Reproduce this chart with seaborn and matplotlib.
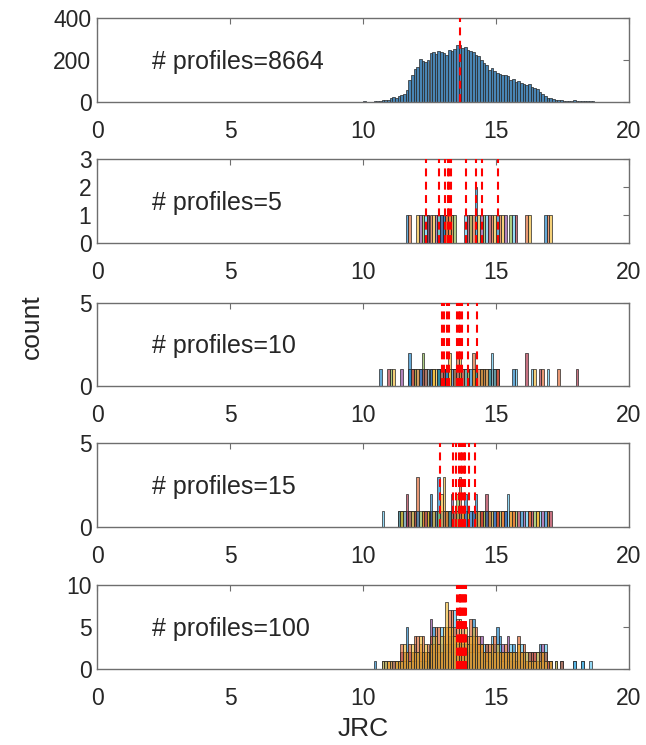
import numpy as np
import pandas as pd
import matplotlib
matplotlib.use("Agg")
import matplotlib.pyplot as plt
import seaborn as sns

# ---------------- data ----------------
n_profiles = [8664, 5, 10, 15, 100]

# panel 1: histogram counts, 0.1-wide bins starting at 10.0
top_bin_start = 10.0
top_counts = [3, 0, 0, 0, 2, 4, 5, 7, 6, 9,
              18, 22, 20, 26, 30, 38, 55, 105, 130, 158,
              165, 205, 195, 190, 200, 232, 238, 228, 245, 240,
              232, 225, 248, 244, 252, 270, 272, 258, 262, 250,
              242, 238, 225, 220, 200, 185, 178, 152, 160, 145,
              138, 135, 128, 130, 122, 105, 110, 96, 98, 90,
              86, 82, 86, 72, 68, 62, 48, 38, 26, 20,
              16, 12, 10, 8, 6, 5, 4, 4, 5, 6,
              4, 3, 2, 2, 2, 1, 1]
top_mean = 13.66

# panel 2: 10 samples of 5 profiles (JRC values) + sample means (red lines)
p2_samples = [
    [11.65, 12.45, 13.05, 14.05, 15.05],
    [11.75, 12.55, 13.15, 14.15, 15.15],
    [12.05, 12.65, 13.25, 14.35, 15.25],
    [12.15, 12.75, 13.35, 14.45, 15.35],
    [12.25, 12.85, 13.45, 14.55, 15.55],
    [12.35, 12.85, 13.85, 14.65, 15.65],
    [12.45, 12.95, 13.95, 14.75, 15.75],
    [12.95, 13.05, 14.22, 14.26, 16.85],
    [13.15, 13.25, 14.85, 16.15, 16.95],
    [13.35, 14.05, 14.95, 16.25, 17.05],
]
p2_means = [12.38, 12.84, 13.09, 13.19, 13.25, 13.31, 13.88, 14.23, 14.46, 15.09]

# panel 3: 10 samples of 10 profiles
p3_samples = [
    [10.65, 11.72, 11.76, 12.35, 12.85, 13.15, 13.55, 14.05, 14.45, 15.65],
    [11.95, 12.45, 13.05, 13.52, 13.56, 13.85, 14.15, 14.35, 14.85, 15.05],
    [11.15, 11.85, 12.65, 13.22, 13.26, 13.65, 13.95, 14.25, 14.95, 12.75],
    [11.45, 12.05, 12.55, 12.95, 13.35, 13.75, 14.15, 14.65, 15.05, 12.15],
    [11.05, 11.95, 12.22, 12.26, 12.85, 13.45, 13.85, 14.25, 14.55, 14.75],
    [16.35, 12.45, 12.95, 13.35, 13.85, 14.82, 14.86, 13.65, 15.75, 16.95],
    [10.95, 12.25, 13.05, 13.65, 14.45, 16.12, 16.16, 16.65, 18.05, 11.85],
    [11.75, 12.15, 12.55, 13.15, 13.45, 13.95, 14.25, 14.75, 14.95, 12.85],
    [16.75, 12.35, 12.95, 13.45, 13.75, 14.12, 14.16, 14.55, 15.05, 17.35],
    [12.05, 12.65, 13.25, 13.62, 13.66, 13.95, 14.15, 14.45, 14.65, 16.45],
]
p3_means = [12.98, 13.06, 13.15, 13.25, 13.54, 13.6, 13.66, 13.72, 13.96, 14.29]

# panel 4: 10 samples of 15 profiles
p4_samples = [
    [11.4, 11.9, 12.3, 12.82, 12.85, 12.88, 12.95, 13.3, 13.6, 14.22, 14.25, 13.1, 12.6, 11.7, 14.0],
    [11.5, 12.02, 12.05, 12.08, 12.7, 13.2, 13.5, 13.9, 14.3, 14.6, 15.0, 15.5, 16.2, 11.8, 12.6],
    [11.35, 12.4, 13.02, 13.05, 13.08, 13.4, 13.7, 14.1, 14.5, 15.2, 15.6, 16.5, 12.2, 13.9, 11.9],
    [11.6, 12.3, 12.9, 13.32, 13.35, 13.8, 14.0, 14.4, 14.9, 15.3, 16.0, 16.7, 12.5, 13.1, 14.1],
    [11.45, 12.1, 12.8, 13.52, 13.55, 13.9, 14.2, 14.7, 15.1, 15.7, 16.4, 12.4, 13.2, 14.5, 16.9],
    [10.72, 11.8, 12.6, 13.0, 13.6, 14.0, 14.3, 14.8, 15.42, 15.45, 16.1, 16.6, 12.9, 13.3, 11.5],
    [11.62, 11.65, 12.5, 13.1, 13.7, 14.62, 14.65, 15.0, 15.8, 16.3, 17.0, 12.2, 13.4, 14.4, 11.9],
    [11.3, 12.0, 12.52, 12.55, 13.2, 13.82, 13.85, 14.1, 14.6, 15.3, 15.9, 16.8, 13.5, 14.9, 12.7],
    [11.7, 12.3, 13.0, 13.62, 13.65, 13.68, 14.2, 14.7, 15.2, 15.6, 16.2, 16.9, 13.3, 14.4, 15.0],
    [11.4, 11.8, 12.2, 12.6, 12.92, 12.95, 13.1, 13.5, 13.9, 14.3, 14.8, 15.5, 16.5, 12.4, 13.7],
]
p4_means = [12.9, 13.4, 13.5, 13.62, 13.68, 13.72, 13.78, 13.84, 14.0, 14.2]

# panel 5: overlaid histogram layers (counts per 0.1 bin starting at 10.4)
p5_bin_start = 10.4
p5_layer_blue = [1, 0, 0, 0, 1, 0, 0, 1, 0, 1,
                 1, 2, 5, 1, 2, 3, 2, 1, 2, 1,
                 2, 3, 5, 2, 3, 2, 3, 3, 4, 3,
                 3, 3, 4, 3, 2, 2, 3, 6, 3, 2,
                 2, 2, 3, 2, 2, 3, 5, 4, 2, 1,
                 2, 2, 3, 1, 2, 1, 2, 1, 2, 1,
                 1, 1, 3, 2, 2, 0, 1, 0, 0, 0,
                 1, 0, 0, 0, 0, 1, 0, 0, 1, 0, 0, 0]
p5_layer_purple = [0, 0, 0, 0, 0, 0, 1, 0, 0, 0,
                   2, 1, 1, 2, 1, 2, 1, 2, 1, 2,
                   1, 6, 2, 3, 2, 3, 2, 2, 3, 2,
                   2, 2, 3, 2, 3, 2, 2, 3, 2, 3,
                   4, 1, 2, 1, 2, 2, 2, 1, 3, 2,
                   4, 1, 1, 2, 1, 2, 1, 1, 1, 2,
                   2, 1, 1, 3, 1, 1, 0, 0, 0, 0,
                   0, 0, 0, 0, 0, 0, 0, 0, 0, 0, 0, 0]
p5_layer_lightblue = [0, 0, 0, 1, 0, 0, 0, 0, 1, 0,
                      1, 1, 2, 1, 1, 1, 2, 1, 2, 1,
                      2, 2, 3, 2, 2, 5, 2, 3, 2, 4,
                      7, 3, 2, 3, 2, 3, 2, 2, 3, 2,
                      2, 3, 1, 2, 4, 2, 3, 3, 1, 2,
                      1, 3, 2, 1, 2, 3, 2, 2, 1, 1,
                      1, 2, 2, 1, 3, 0, 0, 0, 1, 0,
                      0, 0, 0, 0, 0, 1, 0, 0, 1, 0, 0, 1]
p5_layer_orange = [0, 0, 0, 0, 0, 1, 0, 1, 1, 1,
                   3, 2, 2, 3, 2, 4, 4, 3, 4, 2,
                   3, 4, 3, 5, 5, 2, 4, 5, 7, 7,
                   5, 6, 4, 5, 4, 4, 6, 4, 5, 4,
                   3, 2, 3, 3, 3, 4, 2, 2, 2, 3,
                   2, 2, 2, 1, 4, 2, 3, 1, 2, 2,
                   2, 1, 2, 2, 2, 1, 1, 0, 0, 0,
                   1, 0, 0, 0, 0, 0, 0, 0, 0, 0, 0, 0]
p5_layer_yellow = [0, 0, 0, 1, 1, 1, 1, 0, 1, 1,
                   1, 3, 2, 1, 3, 2, 2, 4, 2, 3,
                   2, 3, 4, 4, 3, 4, 5, 8, 5, 5,
                   4, 4, 6, 4, 5, 3, 4, 5, 4, 3,
                   3, 2, 2, 2, 3, 2, 3, 2, 2, 2,
                   2, 2, 2, 2, 3, 2, 2, 2, 1, 1,
                   1, 2, 1, 2, 1, 0, 1, 0, 1, 0,
                   0, 0, 0, 0, 0, 0, 0, 0, 0, 0, 0, 0]
p5_means = [13.55, 13.6, 13.63, 13.66, 13.7, 13.73, 13.76, 13.8, 13.84, 13.88]

# ---------------- style ----------------
sns.set_style("white")
plt.rcParams["font.family"] = ["Liberation Sans", "DejaVu Sans"]

mat_colors = ["#0072BD", "#D95319", "#EDB120", "#7E2F8E",
              "#77AC30", "#4DBEEE", "#A2142F"]
top_color = "#3f7fb0"
edge_col = (0.15, 0.15, 0.15)
spine_col = "#6e6e6e"
text_col = "#262626"

W, H = 646, 745
fig = plt.figure(figsize=(W / 100, H / 100), dpi=100)

left_px, right_px = 97, 629
panel_px = [(18.3, 101.7), (159.3, 243.3), (302.7, 386.0), (443.3, 527.3), (585.0, 669.3)]
axes = []
for top, bot in panel_px:
    ax = fig.add_axes([left_px / W, 1 - bot / H, (right_px - left_px) / W, (bot - top) / H])
    axes.append(ax)

edges = [round(10.0 + 0.1 * k, 2) for k in range(91)]


def draw_sample(ax, vals, color, weights=None, alpha=0.6):
    df = pd.DataFrame({"jrc": np.asarray(vals, dtype=float)})
    kw = dict(data=df, x="jrc", bins=edges, color=color, alpha=alpha,
              edgecolor=edge_col, linewidth=0.5, stat="count", ax=ax)
    if weights is not None:
        df["w"] = np.asarray(weights, dtype=float)
        kw["weights"] = "w"
    sns.histplot(**kw)


def mean_line(ax, m):
    ax.axvline(m, color="red", linestyle=(0, (3.8, 2.6)), linewidth=1.5, zorder=6)


# panel 1
ax = axes[0]
centers1 = top_bin_start + 0.1 * np.arange(len(top_counts)) + 0.05
draw_sample(ax, centers1, top_color, weights=top_counts, alpha=0.95)
mean_line(ax, top_mean)

# panels 2-4
for ax, samples, means in zip(axes[1:4], [p2_samples, p3_samples, p4_samples],
                              [p2_means, p3_means, p4_means]):
    for i, s in enumerate(samples):
        draw_sample(ax, s, mat_colors[i % 7])
    for m in means:
        mean_line(ax, m)

# panel 5
ax = axes[4]
layers = [(p5_layer_blue, mat_colors[0]), (p5_layer_purple, mat_colors[3]),
          (p5_layer_lightblue, mat_colors[5]), (p5_layer_orange, mat_colors[1]),
          (p5_layer_yellow, mat_colors[2])]
for counts, col in layers:
    centers5 = p5_bin_start + 0.1 * np.arange(len(counts)) + 0.05
    draw_sample(ax, centers5, col, weights=counts)
for m in p5_means:
    mean_line(ax, m)

ylims = [(0, 400), (0, 3), (0, 5), (0, 5), (0, 10)]
yticks = [[0, 200, 400], [0, 1, 2, 3], [0, 5], [0, 5], [0, 5, 10]]
for ax, yl, yt, n in zip(axes, ylims, yticks, n_profiles):
    ax.set_xlim(0, 20)
    ax.set_ylim(*yl)
    ax.set_xticks([0, 5, 10, 15, 20])
    ax.set_yticks(yt)
    ax.set_xlabel("")
    ax.set_ylabel("")
    for sp in ax.spines.values():
        sp.set_visible(True)
        sp.set_color(spine_col)
        sp.set_linewidth(1.0)
    ax.tick_params(axis="both", direction="in", top=True, right=True,
                   length=4, width=0.8, color=spine_col,
                   labelsize=16.5, labelcolor=text_col)
    ax.tick_params(axis="x", pad=13)
    ax.tick_params(axis="y", pad=4)
    ax.text(0.103, 0.48, f"# profiles={n}", transform=ax.transAxes,
            ha="left", va="center", fontsize=18, color=text_col)

fig.text(32 / W, 1 - 327 / H, "count", rotation=90, ha="center", va="center",
         fontsize=19, color=text_col)
fig.text(363 / W, 1 - 729 / H, "JRC", ha="center", va="center",
         fontsize=19, color=text_col)

fig.savefig("out.png", dpi=100)
